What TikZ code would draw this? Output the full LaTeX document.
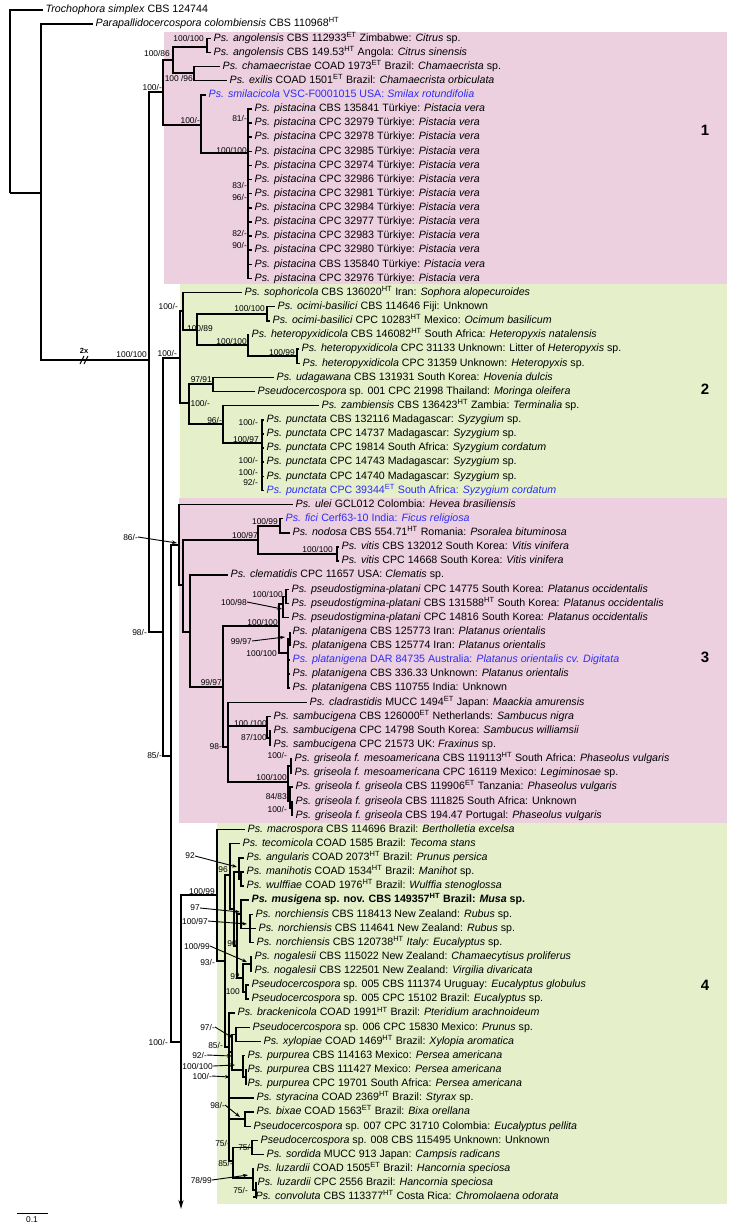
\documentclass[tikz,border=0pt]{standalone}
\usepackage{fontspec}
\setmainfont{Liberation Sans}
\usetikzlibrary{arrows.meta}
\definecolor{CladePink}{RGB}{237,208,223}
\definecolor{CladeGreen}{RGB}{229,240,202}
\definecolor{NewBlue}{RGB}{45,45,245}
\newcommand\sHT{\textsuperscript{HT}}
\newcommand\sET{\textsuperscript{ET}}
\newcommand\ry[1]{10+14.13*(#1-1)}
\newcommand\leaffont{\fontsize{10.65}{13}\selectfont}
\newcommand\suppfont{\fontsize{8.4}{9}\selectfont}
\tikzset{
  leaf/.style={anchor=west, inner xsep=2.5pt, inner ysep=0pt,
               text height=7.8pt, text depth=2.3pt, font=\leaffont},
  branch/.style={line width=1.5pt},
  supp/.style={anchor=east, inner sep=0pt, font=\suppfont},
  pointer/.style={-{Stealth[length=5pt, width=3.5pt]}, line width=0.9pt},
  cladenum/.style={font=\bfseries\fontsize{15}{17}\selectfont},
}
% taxon: [options]{tip x}{row}{label}
\newcommand\taxon[4][]{\node[leaf,#1] (t#3) at (#2,{\ry{#3}}) {#4};}
% support value: {right x}{y}{text}
\newcommand\bs[3]{\node[supp] (bs#1-#2) at (#1,#2) {#3};}
% support value with pointer: {right x}{y}{text}{tip x}{tip y}
\newcommand\bsa[5]{\node[supp] (ba#1-#2) at (#1,#2) {#3};
  \coordinate (pa#1-#2) at (#4,#5);
  \draw[pointer] (ba#1-#2.east) -- (pa#1-#2);}

\begin{document}
\begin{tikzpicture}[x=1pt, y=-1pt]
  \useasboundingbox (0,0) rectangle (743,1226);

  % clades
  \fill[CladePink]  (164,32)  rectangle (727,284);
  \fill[CladeGreen] (180,284) rectangle (727,498);
  \fill[CladePink]  (179,498) rectangle (727,823);
  \fill[CladeGreen] (217,823) rectangle (727,1204);
  \node[cladenum] (k1) at (705,130) {1};
  \node[cladenum] (k2) at (705,389) {2};
  \node[cladenum] (k3) at (705,657) {3};
  \node[cladenum] (k4) at (705,985) {4};

  % outgroups and clade 1
  \taxon{43}{1}{\textit{Trochophora simplex} CBS 124744}
  \taxon{93}{2}{\textit{Parapallidocercospora colombiensis} CBS 110968\sHT}
  \taxon{211}{3}{\textit{Ps. angolensis} CBS 112933\sET{} Zimbabwe: \textit{Citrus} sp.}
  \taxon{211}{4}{\textit{Ps. angolensis} CBS 149.53\sHT{} Angola: \textit{Citrus sinensis}}
  \taxon{220}{5}{\textit{Ps. chamaecristae} COAD 1973\sET{} Brazil: \textit{Chamaecrista} sp.}
  \taxon{227}{6}{\textit{Ps. exilis} COAD 1501\sET{} Brazil: \textit{Chamaecrista orbiculata}}
  \taxon[text=NewBlue]{206}{7}{\textit{Ps. smilacicola} VSC-F0001015 USA: \textit{Smilax rotundifolia}}
  \foreach \r/\strain in {8/CBS 135841, 9/CPC 32979, 10/CPC 32978, 11/CPC 32985,
      12/CPC 32974, 13/CPC 32986, 14/CPC 32981, 15/CPC 32984, 16/CPC 32977,
      17/CPC 32983, 18/CPC 32980, 19/CBS 135840, 20/CPC 32976}
    {\taxon{252}{\r}{\textit{Ps. pistacina} \strain{} Türkiye: \textit{Pistacia vera}}}

  % clade 2
  \taxon{242}{21}{\textit{Ps. sophoricola} CBS 136020\sHT{} Iran: \textit{Sophora alopecuroides}}
  \taxon{275}{22}{\textit{Ps. ocimi-basilici} CBS 114646 Fiji: Unknown}
  \taxon{270}{23}{\textit{Ps. ocimi-basilici} CPC 10283\sHT{} Mexico: \textit{Ocimum basilicum}}
  \taxon{249}{24}{\textit{Ps. heteropyxidicola} CBS 146082\sHT{} South Africa: \textit{Heteropyxis natalensis}}
  \taxon{299}{25}{\textit{Ps. heteropyxidicola} CPC 31133 Unknown: Litter of \textit{Heteropyxis} sp.}
  \taxon{300}{26}{\textit{Ps. heteropyxidicola} CPC 31359 Unknown: \textit{Heteropyxis} sp.}
  \taxon{274}{27}{\textit{Ps. udagawana} CBS 131931 South Korea: \textit{Hovenia dulcis}}
  \taxon{255}{28}{\textit{Pseudocercospora} sp. 001 CPC 21998 Thailand: \textit{Moringa oleifera}}
  \taxon{319}{29}{\textit{Ps. zambiensis} CBS 136423\sHT{} Zambia: \textit{Terminalia} sp.}
  \taxon{264}{30}{\textit{Ps. punctata} CBS 132116 Madagascar: \textit{Syzygium} sp.}
  \taxon{264}{31}{\textit{Ps. punctata} CPC 14737 Madagascar: \textit{Syzygium} sp.}
  \taxon{264}{32}{\textit{Ps. punctata} CPC 19814 South Africa: \textit{Syzygium cordatum}}
  \taxon{264}{33}{\textit{Ps. punctata} CPC 14743 Madagascar: \textit{Syzygium} sp.}
  \taxon{264}{34}{\textit{Ps. punctata} CPC 14740 Madagascar: \textit{Syzygium} sp.}
  \taxon[text=NewBlue]{264}{35}{\textit{Ps. punctata} CPC 39344\sET{} South Africa: \textit{Syzygium cordatum}}

  % clade 3
  \taxon{293}{36}{\textit{Ps. ulei} GCL012 Colombia: \textit{Hevea brasiliensis}}
  \taxon[text=NewBlue]{283}{37}{\textit{Ps. fici} Cerf63-10 India: \textit{Ficus religiosa}}
  \taxon{290}{38}{\textit{Ps. nodosa} CBS 554.71\sHT{} Romania: \textit{Psoralea bituminosa}}
  \taxon{339}{39}{\textit{Ps. vitis} CBS 132012 South Korea: \textit{Vitis vinifera}}
  \taxon{339}{40}{\textit{Ps. vitis} CPC 14668 South Korea: \textit{Vitis vinifera}}
  \taxon{228}{41}{\textit{Ps. clematidis} CPC 11657 USA: \textit{Clematis} sp.}
  \taxon{289}{42}{\textit{Ps. pseudostigmina-platani} CPC 14775 South Korea: \textit{Platanus occidentalis}}
  \taxon{289}{43}{\textit{Ps. pseudostigmina-platani} CBS 131588\sHT{} South Korea: \textit{Platanus occidentalis}}
  \taxon{289}{44}{\textit{Ps. pseudostigmina-platani} CPC 14816 South Korea: \textit{Platanus occidentalis}}
  \taxon{290}{45}{\textit{Ps. platanigena} CBS 125773 Iran: \textit{Platanus orientalis}}
  \taxon{290}{46}{\textit{Ps. platanigena} CBS 125774 Iran: \textit{Platanus orientalis}}
  \taxon[text=NewBlue]{290}{47}{\textit{Ps. platanigena} DAR 84735 Australia: \textit{Platanus orientalis cv. Digitata}}
  \taxon{290}{48}{\textit{Ps. platanigena} CBS 336.33 Unknown: \textit{Platanus orientalis}}
  \taxon{290}{49}{\textit{Ps. platanigena} CBS 110755 India: Unknown}
  \taxon{307}{50}{\textit{Ps. cladrastidis} MUCC 1494\sET{} Japan: \textit{Maackia amurensis}}
  \taxon{271}{51}{\textit{Ps. sambucigena} CBS 126000\sET{} Netherlands: \textit{Sambucus nigra}}
  \taxon{271}{52}{\textit{Ps. sambucigena} CPC 14798 South Korea: \textit{Sambucus williamsii}}
  \taxon{271}{53}{\textit{Ps. sambucigena} CPC 21573 UK: \textit{Fraxinus} sp.}
  \taxon{292}{54}{\textit{Ps. griseola f. mesoamericana} CBS 119113\sHT{} South Africa: \textit{Phaseolus vulgaris}}
  \taxon{292}{55}{\textit{Ps. griseola f. mesoamericana} CPC 16119 Mexico: \textit{Legiminosae} sp.}
  \taxon{293}{56}{\textit{Ps. griseola f. griseola} CBS 119906\sET{} Tanzania: \textit{Phaseolus vulgaris}}
  \taxon{293}{57}{\textit{Ps. griseola f. griseola} CBS 111825 South Africa: Unknown}
  \taxon{293}{58}{\textit{Ps. griseola f. griseola} CBS 194.47 Portugal: \textit{Phaseolus vulgaris}}

  % clade 4
  \taxon{245}{59}{\textit{Ps. macrospora} CBS 114696 Brazil: \textit{Bertholletia excelsa}}
  \taxon{240}{60}{\textit{Ps. tecomicola} COAD 1585 Brazil: \textit{Tecoma stans}}
  \taxon{244}{61}{\textit{Ps. angularis} COAD 2073\sHT{} Brazil: \textit{Prunus persica}}
  \taxon{244}{62}{\textit{Ps. manihotis} COAD 1534\sHT{} Brazil: \textit{Manihot} sp.}
  \taxon{244}{63}{\textit{Ps. wulffiae} COAD 1976\sHT{} Brazil: \textit{Wulffia stenoglossa}}
  \taxon{249}{64}{\textbf{\textit{Ps. musigena} sp. nov. CBS 149357\sHT{} Brazil: \textit{Musa} sp.}}
  \taxon{253}{65}{\textit{Ps. norchiensis} CBS 118413 New Zealand: \textit{Rubus} sp.}
  \taxon{256}{66}{\textit{Ps. norchiensis} CBS 114641 New Zealand: \textit{Rubus} sp.}
  \taxon{254}{67}{\textit{Ps. norchiensis} CBS 120738\sHT{} \textit{Italy: Eucalyptus} sp.}
  \taxon{252}{68}{\textit{Ps. nogalesii} CBS 115022 New Zealand: \textit{Chamaecytisus proliferus}}
  \taxon{252}{69}{\textit{Ps. nogalesii} CBS 122501 New Zealand: \textit{Virgilia divaricata}}
  \taxon{249}{70}{\textit{Pseudocercospora} sp. 005 CBS 111374 Uruguay: \textit{Eucalyptus globulus}}
  \taxon{249}{71}{\textit{Pseudocercospora} sp. 005 CPC 15102 Brazil: \textit{Eucalyptus} sp.}
  \taxon{235}{72}{\textit{Ps. brackenicola} COAD 1991\sHT{} Brazil: \textit{Pteridium arachnoideum}}
  \taxon{250}{73}{\textit{Pseudocercospora} sp. 006 CPC 15830 Mexico: \textit{Prunus} sp.}
  \taxon{261}{74}{\textit{Ps. xylopiae} COAD 1469\sHT{} Brazil: \textit{Xylopia aromatica}}
  \taxon{245}{75}{\textit{Ps. purpurea} CBS 114163 Mexico: \textit{Persea americana}}
  \taxon{245}{76}{\textit{Ps. purpurea} CBS 111427 Mexico: \textit{Persea americana}}
  \taxon{245}{77}{\textit{Ps. purpurea} CPC 19701 South Africa: \textit{Persea americana}}
  \taxon{254}{78}{\textit{Ps. styracina} COAD 2369\sHT{} Brazil: \textit{Styrax} sp.}
  \taxon{254}{79}{\textit{Ps. bixae} COAD 1563\sET{} Brazil: \textit{Bixa orellana}}
  \taxon{251}{80}{\textit{Pseudocercospora} sp. 007 CPC 31710 Colombia: \textit{Eucalyptus pellita}}
  \taxon{258}{81}{\textit{Pseudocercospora} sp. 008 CBS 115495 Unknown: Unknown}
  \taxon{264}{82}{\textit{Ps. sordida} MUCC 913 Japan: \textit{Campsis radicans}}
  \taxon{254}{83}{\textit{Ps. luzardii} COAD 1505\sET{} Brazil: \textit{Hancornia speciosa}}
  \taxon{255}{84}{\textit{Ps. luzardii} CPC 2556 Brazil: \textit{Hancornia speciosa}}
  \taxon{253}{85}{\textit{Ps. convoluta} CBS 113377\sHT{} Costa Rica: \textit{Chromolaena odorata}}

  % inner nodes
  \coordinate (root) at (10,193);   \coordinate (n41) at (41,193);
  \coordinate (n149) at (149,360);  \coordinate (c1) at (163,92);
  \coordinate (nAC) at (173,60);    \coordinate (nAng) at (207,47);
  \coordinate (nCh) at (194,73);    \coordinate (nSm) at (201,125);
  \coordinate (nPi) at (248,153);   \coordinate (n163) at (163,632);
  \coordinate (c2) at (180,358);    \coordinate (nS) at (183,311);
  \coordinate (nO) at (197,330);    \coordinate (nOc) at (267,314);
  \coordinate (nHe) at (248,345);   \coordinate (nHe2) at (297,356);
  \coordinate (nL) at (189,403);    \coordinate (nU) at (213,384);
  \coordinate (nZ) at (223,424);    \coordinate (nP) at (262,443);
  \coordinate (n171) at (171,756);  \coordinate (c3) at (179,545);
  \coordinate (n3b) at (183,585);   \coordinate (nF) at (258,540);
  \coordinate (nFN) at (280,526);   \coordinate (nV) at (337,554);
  \coordinate (n3c) at (190,632);   \coordinate (n3d) at (223,687);
  \coordinate (nPL) at (279,626);   \coordinate (nPS) at (283,604);
  \coordinate (nPS2) at (286,596.5);\coordinate (nPG) at (288,653);
  \coordinate (nPG2) at (290,639);  \coordinate (n3e) at (228,747);
  \coordinate (nSB) at (267,726);   \coordinate (nSB2) at (270,738);
  \coordinate (nGR) at (288,782);   \coordinate (nGM) at (291,766);
  \coordinate (nGG) at (290,801);   \coordinate (nGG2) at (292,808);
  \coordinate (n181) at (181,1042); \coordinate (cont) at (181,1209);
  \coordinate (c4) at (217,895);    \coordinate (n93) at (225,961);
  \coordinate (nT) at (230,875);    \coordinate (nX) at (234,909);
  \coordinate (nANG) at (239,872);  \coordinate (nANG2) at (241,879);
  \coordinate (n90) at (237,946);   \coordinate (nM97) at (241,914);
  \coordinate (nNOR) at (250,928.6);\coordinate (n92) at (243,978);
  \coordinate (nNOG) at (251,964);  \coordinate (nSP5) at (246,992);
  \coordinate (n85) at (229,1047);  \coordinate (nQ) at (232,1052);
  \coordinate (nS6X) at (236,1034.6);\coordinate (nPUR) at (243,1070);
  \coordinate (nPUR2) at (246,1077);\coordinate (nBIX) at (245,1119);
  \coordinate (n85b) at (233,1161); \coordinate (nS8) at (252,1147.7);
  \coordinate (nLUZ) at (253,1178); \coordinate (nLUZ2) at (256,1190);

  % branches
  \foreach \p/\c in {root/t1, root/n41, n41/t2, n41/n149, n149/c1, n149/n163,
      c1/nAC, c1/nSm, nAC/nAng, nAC/nCh, nAng/t3, nAng/t4, nCh/t5, nCh/t6,
      nSm/t7, nSm/nPi,
      n163/c2, n163/n171, c2/nS, c2/nL, nS/t21, nS/nO, nO/nOc, nO/nHe,
      nOc/t22, nOc/t23, nHe/t24, nHe/nHe2, nHe2/t25, nHe2/t26,
      nL/nU, nL/nZ, nU/t27, nU/t28, nZ/t29, nZ/nP,
      n171/c3, n171/n181, c3/t36, c3/n3b, n3b/nF, n3b/n3c, nF/nFN, nF/nV,
      nFN/t37, nFN/t38, nV/t39, nV/t40, n3c/t41, n3c/n3d, n3d/nPL, n3d/n3e,
      nPL/nPS, nPL/nPG, nPS/nPS2, nPS/t44, nPS2/t42, nPS2/t43,
      nPG/nPG2, nPG/t47, nPG/t48, nPG/t49, nPG2/t45, nPG2/t46,
      n3e/t50, n3e/nSB, n3e/nGR, nSB/t51, nSB/nSB2, nSB2/t52, nSB2/t53,
      nGR/nGM, nGR/nGG, nGM/t54, nGM/t55, nGG/t56, nGG/nGG2, nGG2/t57, nGG2/t58,
      n181/c4, c4/t59, c4/n93, n93/nT, n93/n85, nT/t60, nT/nX,
      nX/nANG, nX/n90, nANG/t61, nANG/nANG2, nANG2/t62, nANG2/t63,
      n90/nM97, n90/n92, nM97/t64, nM97/nNOR, nNOR/t65, nNOR/t66, nNOR/t67,
      n92/nNOG, n92/nSP5, nNOG/t68, nNOG/t69, nSP5/t70, nSP5/t71,
      n85/t72, n85/nQ, n85/t78, n85/nBIX, n85/n85b, nQ/nS6X, nQ/nPUR,
      nS6X/t73, nS6X/t74, nPUR/t75, nPUR/nPUR2, nPUR2/t76, nPUR2/t77,
      nBIX/t79, nBIX/t80, n85b/nS8, n85b/nLUZ, nS8/t81, nS8/t82,
      nLUZ/t83, nLUZ/nLUZ2, nLUZ2/t84, nLUZ2/t85}
    {\draw[branch] (\p) |- (\c);}
  \foreach \r in {8,...,20} {\draw[branch] (nPi) |- (t\r);}
  \foreach \r in {30,...,35} {\draw[branch] (nP) |- (t\r);}
  \draw[branch, -{Stealth[length=9pt, width=5pt]}] (n181) -- (cont);

  % long branch break
  \draw[line width=1pt] (80,364) -- (84,356) (84,364) -- (88,356);
  \node[font=\bfseries\fontsize{7.5}{8}\selectfont, inner sep=0pt] (brk) at (84,351) {2x};

  % support values
  \bs{147}{354}{100/100}
  \bs{204}{38}{100/100}   \bs{170}{53}{100/86}    \bs{193}{78}{100 /96}
  \bs{162}{87}{100/-}     \bs{200}{120}{100/-}
  \bs{247}{118}{81/-}     \bs{247}{150}{100/100}  \bs{247}{185}{83/-}
  \bs{247}{197}{96/-}     \bs{247}{233}{82/-}     \bs{247}{245}{90/-}
  \bs{178}{306}{100/-}    \bs{265}{308}{100/100}  \bs{213}{328}{100/89}
  \bs{247}{341}{100/100}  \bs{295}{352}{100/99}   \bs{177}{353}{100/-}
  \bs{212}{379}{97/91}    \bs{210}{403}{100/-}    \bs{222}{420}{96/-}
  \bs{258}{422}{100/-}    \bs{259}{439}{100/97}   \bs{258}{460}{100/-}
  \bs{258}{472}{100/-}    \bs{258}{482}{92/-}
  \bsa{138}{537}{86/-}{177}{543}
  \bs{278}{521}{100/99}   \bs{258}{535}{100/97}   \bs{333}{549}{100/100}
  \bs{283}{594}{100/100}
  \bsa{247}{602}{100/98}{282}{609}
  \bs{147}{632}{98/-}     \bs{278}{622}{100/100}
  \bsa{252}{641}{99/97}{285}{637}
  \bs{277}{653}{100/100}  \bs{222}{682}{99/97}    \bs{267}{723}{100 /100}
  \bs{267}{737}{87/100}   \bs{222}{747}{98-}      \bs{162}{755}{85/-}
  \bs{287}{755}{100/-}    \bs{287}{777}{100/100}  \bs{287}{796}{84/83}
  \bs{287}{809}{100/-}
  \bs{215}{891}{100/99}
  \bsa{195}{856}{92}{237}{867}
  \bs{228}{870}{96}
  \bsa{200}{908}{97}{240}{912}
  \bsa{208}{921}{100/97}{247}{924}
  \bs{237}{944}{90}
  \bsa{210}{946}{100/99}{247}{962}
  \bs{215}{962}{93/-}     \bs{240}{977}{92}       \bs{240}{992}{100}
  \bs{168}{1042}{100/-}
  \bsa{215}{1027}{97/-}{233}{1038}
  \bs{223}{1045}{85/-}
  \bsa{207}{1055}{92/-}{232}{1056}
  \bsa{213}{1066}{100/100}{235}{1065}
  \bsa{212}{1076}{100/-}{230}{1077}
  \bsa{225}{1105}{98/-}{240}{1117}
  \bs{230}{1143}{75/-}    \bs{253}{1147}{75/-}    \bs{233}{1163}{85/-}
  \bsa{212}{1180}{78/99}{248}{1175}
  \bs{248}{1190}{75/-}

  % scale bar
  \coordinate (sb0) at (17,1213);
  \coordinate (sb1) at (48,1213);
  \draw[line width=1pt] (sb0) -- (sb1);
  \node[font=\suppfont, inner sep=0pt] (sbl) at (32,1220) {0.1};
\end{tikzpicture}
\end{document}
